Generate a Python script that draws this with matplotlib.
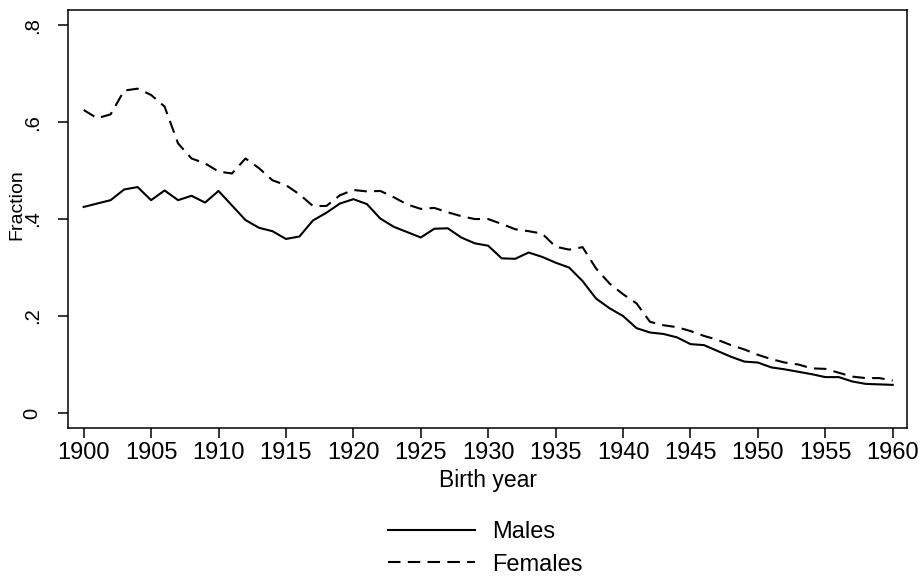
import matplotlib
matplotlib.use('Agg')
import matplotlib.pyplot as plt

# birth cohorts and fractions
years = list(range(1900, 1961))

males = [0.425, 0.432, 0.439, 0.461, 0.466, 0.439, 0.459, 0.439, 0.448, 0.434,
         0.458, 0.428, 0.398, 0.382, 0.375, 0.359, 0.364, 0.397, 0.413, 0.432,
         0.441, 0.431, 0.401, 0.384, 0.373, 0.362, 0.380, 0.381, 0.362, 0.350,
         0.345, 0.319, 0.318, 0.331, 0.322, 0.310, 0.300, 0.272, 0.236, 0.216,
         0.200, 0.175, 0.166, 0.163, 0.156, 0.142, 0.140, 0.128, 0.116, 0.106,
         0.104, 0.094, 0.090, 0.085, 0.080, 0.074, 0.074, 0.065, 0.060, 0.059,
         0.058]

females = [0.625, 0.608, 0.616, 0.665, 0.669, 0.656, 0.632, 0.556, 0.525, 0.515,
           0.498, 0.494, 0.525, 0.505, 0.480, 0.470, 0.451, 0.427, 0.427, 0.449,
           0.460, 0.457, 0.458, 0.445, 0.430, 0.421, 0.423, 0.414, 0.406, 0.400,
           0.400, 0.390, 0.379, 0.375, 0.370, 0.343, 0.337, 0.342, 0.298, 0.267,
           0.245, 0.226, 0.188, 0.181, 0.177, 0.169, 0.159, 0.151, 0.140, 0.131,
           0.120, 0.111, 0.104, 0.100, 0.092, 0.091, 0.083, 0.075, 0.072, 0.072,
           0.067]

x_ticks = list(range(1900, 1961, 5))
y_ticks = [0, 0.2, 0.4, 0.6, 0.8]
y_tick_labels = ['0', '.2', '.4', '.6', '.8']

plt.rcParams['font.family'] = ['Liberation Sans', 'DejaVu Sans']
narrow = ['Liberation Sans Narrow', 'Liberation Sans']

fig = plt.figure(figsize=(9.23, 5.78), dpi=100)
ax = fig.add_axes([0.0737, 0.2595, 0.909, 0.723])

ax.plot(years, males, color='black', lw=1.5, label='Males')
ax.plot(years, females, color='black', lw=1.5, dashes=(6, 3.5), label='Females')

ax.set_xlim(1898.84, 1961.06)
ax.set_ylim(-0.031, 0.831)
ax.set_xticks(x_ticks)
ax.set_xticklabels([str(x) for x in x_ticks], fontsize=17, family=narrow)
ax.set_yticks(y_ticks)
ax.set_yticklabels(y_tick_labels, rotation=90, va='center', fontsize=14.5, family=narrow)
ax.tick_params(axis='both', length=7, width=1.1, direction='out')
ax.tick_params(axis='x', pad=3)
ax.tick_params(axis='y', pad=12)
for s in ax.spines.values():
    s.set_linewidth(1.1)

ax.set_xlabel('Birth year', fontsize=16.5, labelpad=4)
fig.text(17 / 923, 1 - 205 / 578, 'Fraction', rotation=90, fontsize=14,
         family=narrow, ha='center', va='center')

fig.legend(loc='upper left', bbox_to_anchor=(388 / 923, 1 - 521 / 578),
           frameon=False, prop={'size': 17}, handlelength=3.7, handletextpad=0.7,
           labelspacing=0.45, borderpad=0, borderaxespad=0)

fig.savefig('out.png', dpi=100)
